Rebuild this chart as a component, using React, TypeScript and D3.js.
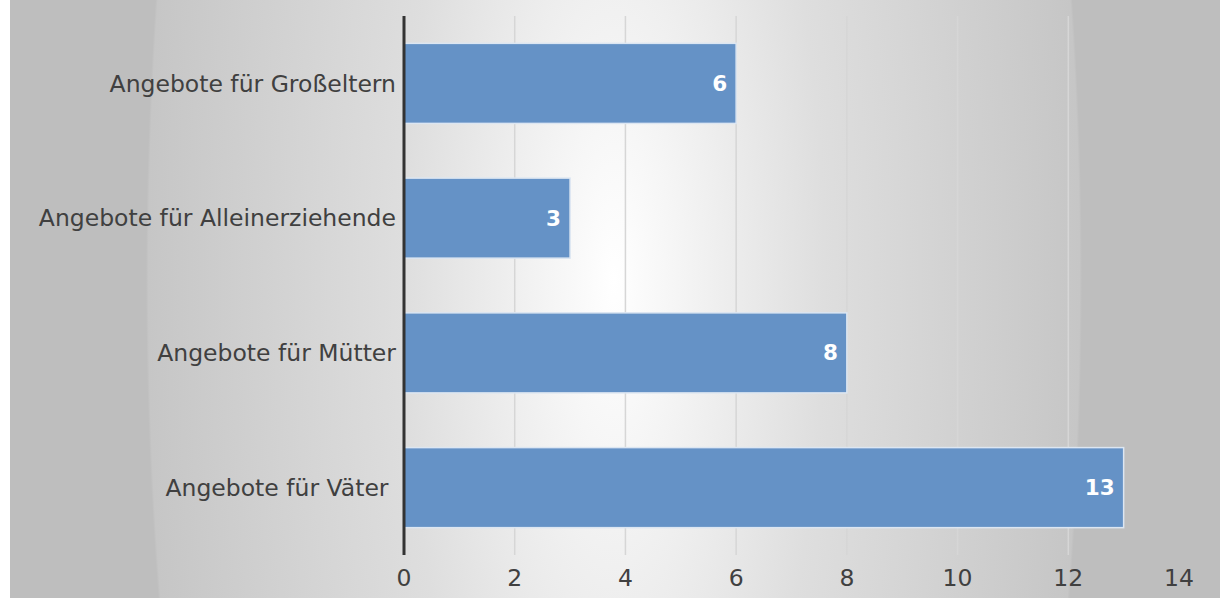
import * as d3 from "d3";

const categories = [
  "Angebote für Großeltern",
  "Angebote für Alleinerziehende",
  "Angebote für Mütter",
  "Angebote für Väter ",
];
const values = [6, 3, 8, 13];
const xTicks = [0, 2, 4, 6, 8, 10, 12, 14];

const W = 1223;
const H = 598;
const FONT = "'DejaVu Sans', sans-serif";

export default function App() {
  const left = 404;
  const top = 16;
  const bottom = 555;

  const x = d3.scaleLinear().domain([0, 14]).range([left, 1179]);
  const y = d3
    .scaleBand<string>()
    .domain(categories)
    .range([top, bottom])
    .paddingInner(0.406)
    .paddingOuter(0.203);

  return (
    <svg
      width={W}
      height={H}
      style={{ position: "absolute", left: 0, top: 0, display: "block" }}
    >
      <defs>
        <radialGradient
          id="bg"
          gradientUnits="userSpaceOnUse"
          cx={0}
          cy={0}
          r={1}
          gradientTransform="translate(614,280) scale(468,1400)"
        >
          <stop offset="0%" stopColor="#ffffff" />
          <stop offset="45%" stopColor="#dedede" />
          <stop offset="99.5%" stopColor="#c6c6c6" />
          <stop offset="100%" stopColor="#bebebe" />
        </radialGradient>
      </defs>
      <rect x={10} y={0} width={1210} height={H} fill="url(#bg)" />

      {/* gridlines */}
      {xTicks.slice(1, -1).map((t) => (
        <line
          key={t}
          x1={x(t)}
          x2={x(t)}
          y1={top}
          y2={bottom}
          stroke="#d6d6d6"
          strokeWidth={1.5}
        />
      ))}

      {/* bars */}
      {categories.map((c, i) => (
        <g key={c}>
          <rect
            x={x(0)}
            y={y(c)}
            width={x(values[i]) - x(0)}
            height={y.bandwidth()}
            fill="#6592c6"
            stroke="#dce6f2"
            strokeWidth={1.5}
          />
          <text
            x={x(values[i]) - 9}
            y={(y(c) ?? 0) + y.bandwidth() / 2}
            dy="0.35em"
            textAnchor="end"
            fill="#ffffff"
            fontFamily={FONT}
            fontWeight="bold"
            fontSize={21.5}
          >
            {values[i]}
          </text>
          <text
            x={left - 8}
            y={(y(c) ?? 0) + y.bandwidth() / 2}
            dy="0.35em"
            textAnchor="end"
            fill="#404040"
            fontFamily={FONT}
            fontSize={23.5}
            style={{ whiteSpace: "pre" }}
          >
            {c}
          </text>
        </g>
      ))}

      {/* axis line */}
      <line x1={x(0)} x2={x(0)} y1={top} y2={bottom} stroke="#333333" strokeWidth={3} />

      {/* tick labels */}
      {xTicks.map((t) => (
        <text
          key={t}
          x={x(t)}
          y={578}
          dy="0.35em"
          textAnchor="middle"
          fill="#404040"
          fontFamily={FONT}
          fontSize={23.5}
        >
          {t}
        </text>
      ))}
    </svg>
  );
}
